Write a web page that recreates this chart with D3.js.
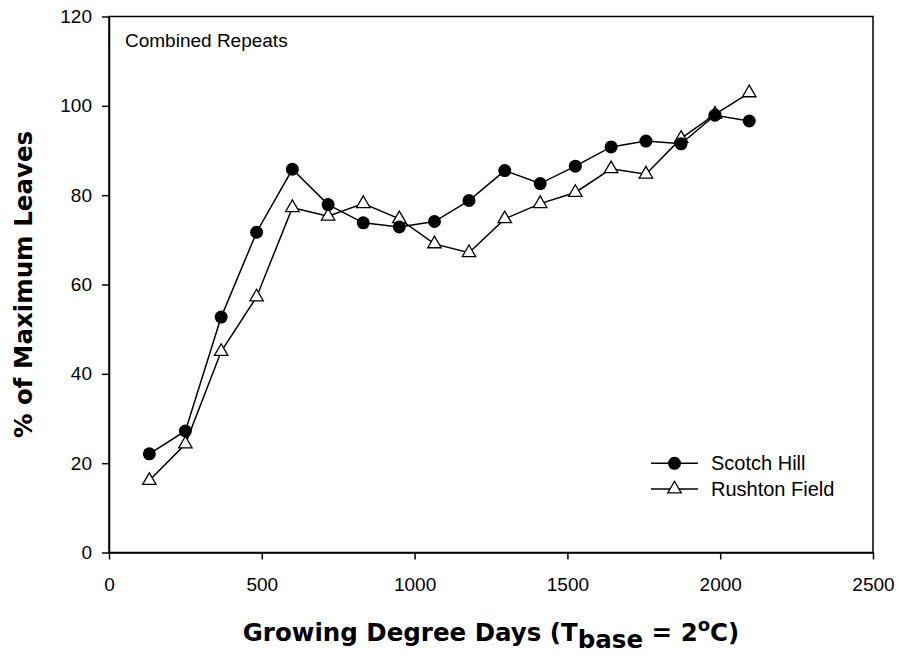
<!DOCTYPE html>
<html>
<head>
<meta charset="utf-8">
<script src="https://cdn.jsdelivr.net/npm/d3@7"></script>
<style>
  body { margin: 0; background: #fff; }
  text { font-family: "Liberation Sans", Arial, sans-serif; }
</style>
</head>
<body>
<div id="chart"></div>
<script>
// Growing degree days at each sampling
const gdd = [132, 250, 367, 483, 600, 717, 832, 950, 1065, 1178, 1295, 1411, 1526, 1643, 1757, 1872, 1983, 2095];
// % of maximum leaves
const scotchHill = [22.1, 27.2, 52.7, 71.7, 85.8, 77.9, 73.8, 72.9, 74.1, 78.8, 85.5, 82.6, 86.5, 90.8, 92.1, 91.5, 97.9, 96.6];
const rushtonField = [16.1, 24.3, 45.0, 57.2, 77.2, 75.3, 78.1, 74.7, 69.1, 67.1, 74.7, 78.1, 80.6, 85.9, 84.7, 92.7, 98.1, 102.9];
const xTicks = [0, 500, 1000, 1500, 2000, 2500];
const yTicks = [0, 20, 40, 60, 80, 100, 120];

const width = 898;
const height = 667;
const marginTop = 16.5;
const marginRight = 25;
const marginBottom = 114.5;
const marginLeft = 109;

const x = d3.scaleLinear()
    .domain([0, 2500])
    .range([marginLeft, width - marginRight]);

const y = d3.scaleLinear()
    .domain([0, 120])
    .range([height - marginBottom, marginTop]);

const svg = d3.select("#chart")
    .append("svg")
    .attr("width", width)
    .attr("height", height)
    .attr("viewBox", [0, 0, width, height]);

// frame
svg.append("rect")
    .attr("x", marginLeft)
    .attr("y", marginTop)
    .attr("width", width - marginRight - marginLeft)
    .attr("height", height - marginBottom - marginTop)
    .attr("fill", "none")
    .attr("stroke", "#000")
    .attr("stroke-width", 1.5);

// axes
const xAxis = svg.append("g")
    .attr("transform", `translate(0,${height - marginBottom})`)
    .call(d3.axisBottom(x).tickValues(xTicks).tickFormat(d3.format("d"))
        .tickSize(7).tickPadding(18).tickSizeOuter(0));

const yAxis = svg.append("g")
    .attr("transform", `translate(${marginLeft},0)`)
    .call(d3.axisLeft(y).tickValues(yTicks).tickFormat(d3.format("d"))
        .tickSize(7).tickPadding(10).tickSizeOuter(0));

[xAxis, yAxis].forEach((g) => {
    g.select(".domain").attr("stroke-width", 1.5);
    g.selectAll(".tick line").attr("stroke-width", 1.5);
    g.selectAll(".tick text")
        .attr("fill", "#000")
        .style("font-size", "19px")
        .style("font-family", "'Liberation Sans', Arial, sans-serif");
});

// series
const series = [
    { name: "Scotch Hill", values: scotchHill, marker: "circle" },
    { name: "Rushton Field", values: rushtonField, marker: "triangle" }
];

const line = d3.line()
    .x((d) => x(d[0]))
    .y((d) => y(d[1]));

const triangle = d3.symbol().type(d3.symbolTriangle).size(78);

function drawMarker(sel, type) {
    if (type === "circle") {
        sel.append("circle")
            .attr("r", 6.5)
            .attr("fill", "#000");
    } else {
        sel.append("path")
            .attr("d", triangle)
            .attr("fill", "#fff")
            .attr("stroke", "#000")
            .attr("stroke-width", 1.3);
    }
}

// lines first, then markers of each series
series.slice().reverse().forEach((s) => {
    const pts = gdd.map((g, i) => [g, s.values[i]]);
    svg.append("path")
        .datum(pts)
        .attr("fill", "none")
        .attr("stroke", "#000")
        .attr("stroke-width", 1.5)
        .attr("d", line);
    svg.append("g")
        .selectAll("g")
        .data(pts)
        .join("g")
        .attr("transform", (d) => `translate(${x(d[0])},${y(d[1])})`)
        .each(function () { drawMarker(d3.select(this), s.marker); });
});

// legend
const legend = svg.append("g");
series.forEach((s, i) => {
    const ly = 463.3 + i * 25.7;
    const item = legend.append("g");
    item.append("line")
        .attr("x1", 651).attr("x2", 698)
        .attr("y1", ly).attr("y2", ly)
        .attr("stroke", "#000")
        .attr("stroke-width", 1.5);
    const m = item.append("g").attr("transform", `translate(674.5,${ly})`);
    drawMarker(m, s.marker);
    item.append("text")
        .attr("x", 711)
        .attr("y", ly + 7)
        .style("font-size", "20px")
        .text(s.name);
});

// inner label
svg.append("text")
    .attr("x", 125)
    .attr("y", 47)
    .style("font-size", "19px")
    .text("Combined Repeats");

// axis titles
const xTitle = svg.append("text")
    .attr("x", (marginLeft + width - marginRight) / 2)
    .attr("y", 641)
    .attr("text-anchor", "middle")
    .style("font-family", "'DejaVu Sans', sans-serif")
    .style("font-weight", "bold")
    .style("font-size", "24.5px");
xTitle.append("tspan").text("Growing Degree Days (T");
xTitle.append("tspan").attr("dy", 7).text("base");
xTitle.append("tspan").attr("dy", -7).text(" = 2");
xTitle.append("tspan").attr("dy", -10).style("font-size", "18px").text("o");
xTitle.append("tspan").attr("dy", 10).text("C)");

svg.append("text")
    .attr("transform", `translate(32,${(marginTop + height - marginBottom) / 2}) rotate(-90)`)
    .attr("text-anchor", "middle")
    .style("font-family", "'DejaVu Sans', sans-serif")
    .style("font-weight", "bold")
    .style("font-size", "24.5px")
    .text("% of Maximum Leaves");
</script>
</body>
</html>
